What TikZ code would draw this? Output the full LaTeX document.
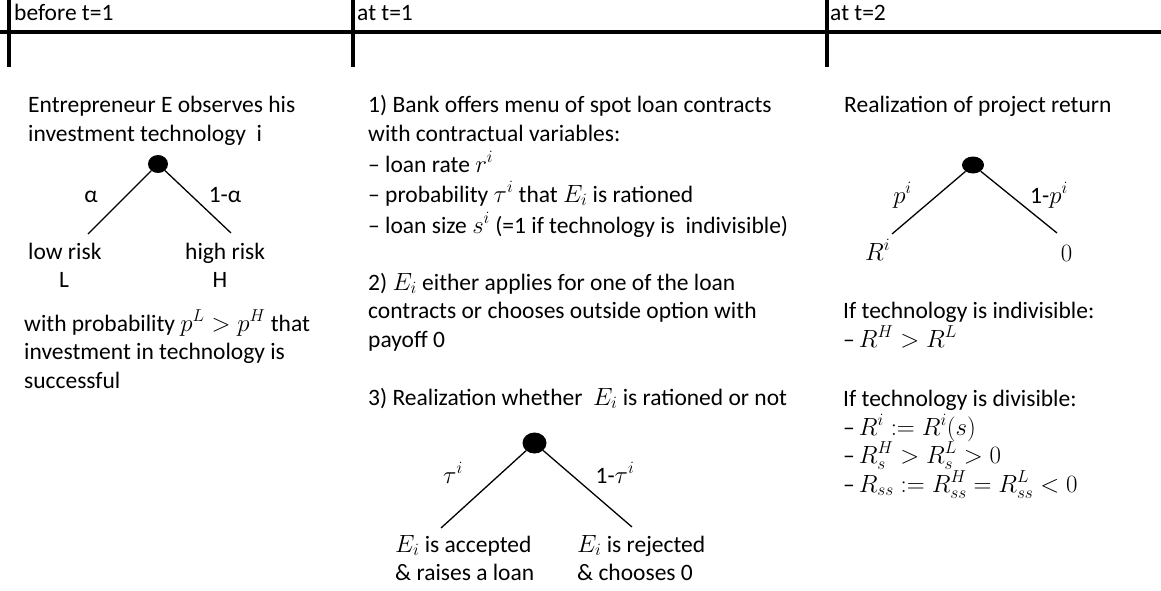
\documentclass[tikz,border=0pt]{standalone}
\usepackage{fontspec}
\setmainfont{Carlito}
\DeclareMathSizes{23.5}{24.3}{17.5}{13.5}
\usetikzlibrary{shapes.geometric}
\begin{document}
\begin{tikzpicture}[x=1pt,y=-1pt,
  txt/.style={anchor=base west, inner sep=0pt, font=\fontsize{23.5}{28}\selectfont},
  lbl/.style={anchor=base, inner sep=0pt, font=\fontsize{23.5}{28}\selectfont},
  dot/.style={ellipse, fill=black, draw=none, inner sep=0pt},
  branch/.style={line width=1.3pt},
  bar/.style={line width=4.6pt}]
\useasboundingbox (0,0) rectangle (1161,591);
% header
\coordinate (hL) at (0,32); \coordinate (hR) at (1161,32);
\draw[bar] (hL) -- (hR);
\coordinate (v1t) at (9,0);   \coordinate (v1b) at (9,67);
\coordinate (v2t) at (353,0); \coordinate (v2b) at (353,67);
\coordinate (v3t) at (827,0); \coordinate (v3b) at (827,67);
\draw[bar] (v1t) -- (v1b);
\draw[bar] (v2t) -- (v2b);
\draw[bar] (v3t) -- (v3b);
\node[txt] (h1) at (14,21) {before t=1};
\node[txt] (h2) at (357,21) {at t=1};
\node[txt] (h3) at (830,21) {at t=2};
% left column
\node[txt] (e1) at (28,113) {Entrepreneur E observes his};
\node[txt] (e2) at (28,142) {investment technology\ \ i};
\node[dot, minimum width=20pt, minimum height=18pt] (d1) at (158,164) {};
\coordinate (l1) at (88,234); \coordinate (r1) at (231,233);
\draw[branch] (d1) -- (l1);
\draw[branch] (d1) -- (r1);
\node[lbl] (a1) at (91,202) {α};
\node[lbl] (a2) at (225,202) {1-α};
\node[txt] (lowr) at (28,259) {low risk};
\node[txt] (highr) at (185,259) {high risk};
\node[lbl] (lL) at (64,287) {L};
\node[lbl] (lH) at (220,287) {H};
\node[txt] (w1) at (24,331) {with probability $p^L > p^H$ that};
\node[txt] (w2) at (24,359) {investment in technology is};
\node[txt] (w3) at (24,388) {successful};
% middle column
\node[txt] (m1) at (368,113) {1) Bank offers menu of spot loan contracts};
\node[txt] (m2) at (368,142) {with contractual variables:};
\node[txt] (m3) at (368,172) {– loan rate $r^i$};
\node[txt] (m4) at (368,202) {– probability $\tau^i$ that $E_i$ is rationed};
\node[txt] (m5) at (368,233) {– loan size $s^i$ (=1 if technology is\ \ indivisible)};
\node[txt] (n1) at (368,290) {2) $E_i$ either applies for one of the loan};
\node[txt] (n2) at (368,318) {contracts or chooses outside option with};
\node[txt] (n3) at (368,347) {payoff 0};
\node[txt] (n4) at (368,405) {3) Realization whether\ \ $E_i$ is rationed or not};
\node[dot, minimum width=24pt, minimum height=21pt] (d2) at (534.5,443) {};
\coordinate (l2) at (441,528); \coordinate (r2) at (632,527);
\draw[branch] (d2) -- (l2);
\draw[branch] (d2) -- (r2);
\node[lbl] (t1) at (453,483) {$\tau^i$};
\node[lbl] (t2) at (615,483) {1-$\tau^i$};
\node[txt] (o1) at (395,552) {$E_i$ is accepted};
\node[txt] (o2) at (395,580) {\& raises a loan};
\node[txt] (o3) at (577,552) {$E_i$ is rejected};
\node[txt] (o4) at (577,580) {\& chooses 0};
% right column
\node[txt] (q1) at (844,113) {Realization of project return};
\node[dot, minimum width=22pt, minimum height=17pt] (d3) at (973,165) {};
\coordinate (l3) at (892,234); \coordinate (r3) at (1057,233);
\draw[branch] (d3) -- (l3);
\draw[branch] (d3) -- (r3);
\node[lbl] (p1) at (902.5,203) {$p^i$};
\node[lbl] (p2) at (1049,203) {1-$p^i$};
\node[lbl] (R1) at (877.5,260) {$R^i$};
\node[lbl] (R0) at (1066.5,261) {$0$};
\node[txt] (s1) at (843,318) {If technology is indivisible:};
\node[txt] (s2) at (843,347) {–\,$R^H > R^L$};
\node[txt] (s3) at (843,406) {If technology is divisible:};
\node[txt] (s4) at (843,435) {–\,$R^i \mathrel{:=} R^i(s)$};
\node[txt] (s5) at (843,463) {–\,$R^H_s > R^L_s > 0$};
\node[txt] (s6) at (843,492) {–\,$R_{ss} \mathrel{:=} R^H_{ss} = R^L_{ss} < 0$};
\end{tikzpicture}
\end{document}
